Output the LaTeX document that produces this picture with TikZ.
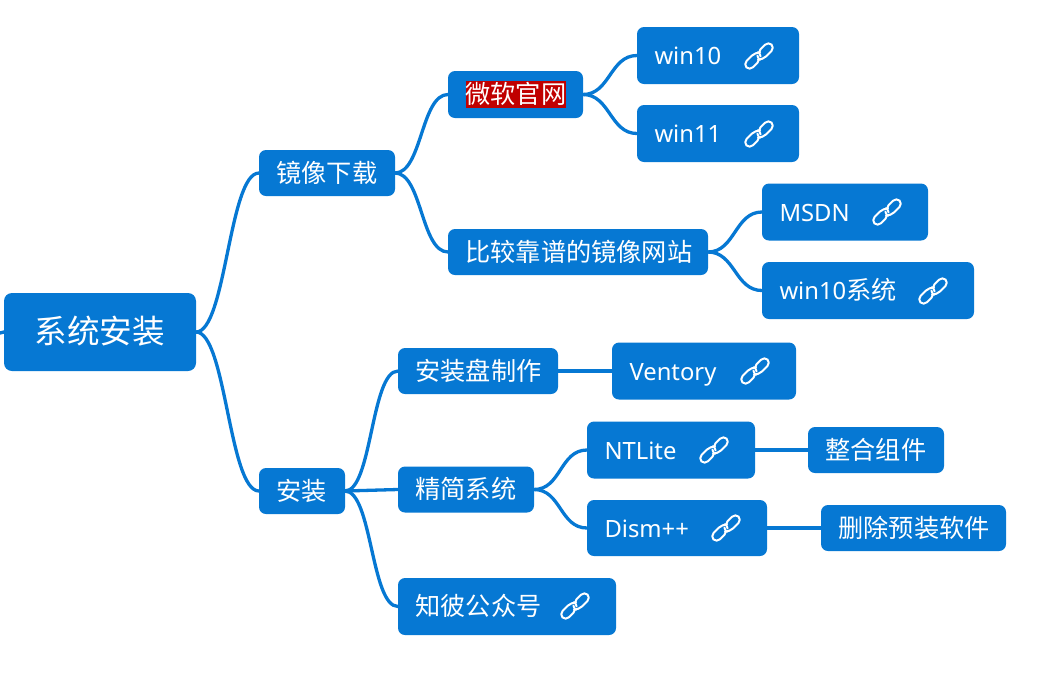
\documentclass[tikz,border=0pt]{standalone}
\usepackage{fontspec}
\setmainfont{Noto Sans}
\newfontfamily\cjkface{Noto Sans CJK SC}
\newcommand{\cjk}{\fontsize{25.2}{25.2}\cjkface}
\definecolor{mmblue}{HTML}{0678D3}
\definecolor{mmred}{HTML}{C00000}
\setlength{\fboxsep}{0pt}
\tikzset{
  box/.style={fill=mmblue,text=white,rounded corners=7pt,inner xsep=17.5pt,inner ysep=0pt,outer sep=0pt,align=left,
    font=\fontsize{23.8}{25}\selectfont,text height=21.5pt,text depth=3.5pt},
  rootbox/.style={box,rounded corners=8pt,inner xsep=32pt,text height=28pt,text depth=6pt},
  conn/.style={draw=mmblue,line width=3.3pt,line cap=round},
  chain/.style={draw=white,line width=2pt,line cap=round,line join=round}
}
\newcommand{\linkicon}[2]{%
  \begin{scope}[shift={(#1,#2)},rotate=45]
    \draw[chain,rounded corners=4.8pt] (-1,-1.5) -- (-1,3.7) -- (-17,3.7) -- (-17,-5.3) -- (0,-5.3) -- (1.5,-3.7);
    \draw[chain,rounded corners=4.8pt] (1,1.5) -- (1,-3.7) -- (17,-3.7) -- (17,5.3) -- (0,5.3) -- (-1.5,3.7);
  \end{scope}}
\newcommand{\conn}[3]{\draw[conn] (#1.east) .. controls +(#3pt,0pt) and +(-#3pt,0pt) .. (#2.west);}
\begin{document}
\begin{tikzpicture}[x=1pt,y=-1pt]
\useasboundingbox (0,0) rectangle (1057,689);
\coordinate (stub) at (0,333);
\node[rootbox,minimum height=78pt,text width=128pt] (root) at (100,332) {\fontsize{32.6}{33}\cjkface\hspace*{-1.5pt}系统安装};
\node[box,minimum height=46pt,text width=101pt] (jx) at (327,173) {\cjk 镜像下载};
\node[box,minimum height=46pt,text width=51pt] (az) at (302,491) {\cjk 安装};
\node[box,minimum height=47pt,text width=100pt] (wr) at (515.5,94.5) {\colorbox{mmred}{\rule[-4pt]{0pt}{27pt}\cjk 微软官网}};
\node[box,minimum height=46pt,text width=225pt] (kp) at (578,252) {\cjk 比较靠谱的镜像网站};
\node[box,minimum height=57pt,text width=127pt] (w10) at (718,55.5) {win10};
\node[box,minimum height=57pt,text width=127pt] (w11) at (718,133.5) {win11};
\node[box,minimum height=57pt,text width=131pt] (msdn) at (845,212) {MSDN};
\node[box,minimum height=57pt,text width=177pt] (w10x) at (868,290.5) {win10{\cjk 系统}};
\node[box,minimum height=46pt,text width=125pt] (zz) at (478,371) {\cjk 安装盘制作};
\node[box,minimum height=57pt,text width=149pt] (vt) at (704,371) {Ventory};
\node[box,minimum height=46pt,text width=101pt] (jj) at (466,489.5) {\cjk 精简系统};
\node[box,minimum height=57pt,text width=133pt] (nt) at (671,450) {NTLite};
\node[box,minimum height=46pt,text width=101pt] (zh) at (876,450) {\cjk 整合组件};
\node[box,minimum height=56pt,text width=145pt] (ds) at (677,528) {Dism++};
\node[box,minimum height=46pt,text width=150pt] (sc) at (913.5,528) {\cjk 删除预装软件};
\node[box,minimum height=57pt,text width=183pt] (zb) at (507,606.5) {\cjk 知彼公众号};
\linkicon{759}{56}
\linkicon{759}{134}
\linkicon{887}{212}
\linkicon{933}{291}
\linkicon{755}{371}
\linkicon{714}{450}
\linkicon{726}{528}
\linkicon{575}{606}
\draw[conn] (stub) -- (root.west);
\conn{root}{jx}{30}
\conn{root}{az}{30}
\conn{jx}{wr}{27}
\conn{jx}{kp}{27}
\conn{wr}{w10}{27}
\conn{wr}{w11}{27}
\conn{kp}{msdn}{27}
\conn{kp}{w10x}{27}
\conn{az}{zz}{27}
\conn{az}{jj}{27}
\conn{az}{zb}{27}
\conn{zz}{vt}{27}
\conn{jj}{nt}{27}
\conn{jj}{ds}{27}
\conn{nt}{zh}{27}
\conn{ds}{sc}{27}
\end{tikzpicture}
\end{document}
